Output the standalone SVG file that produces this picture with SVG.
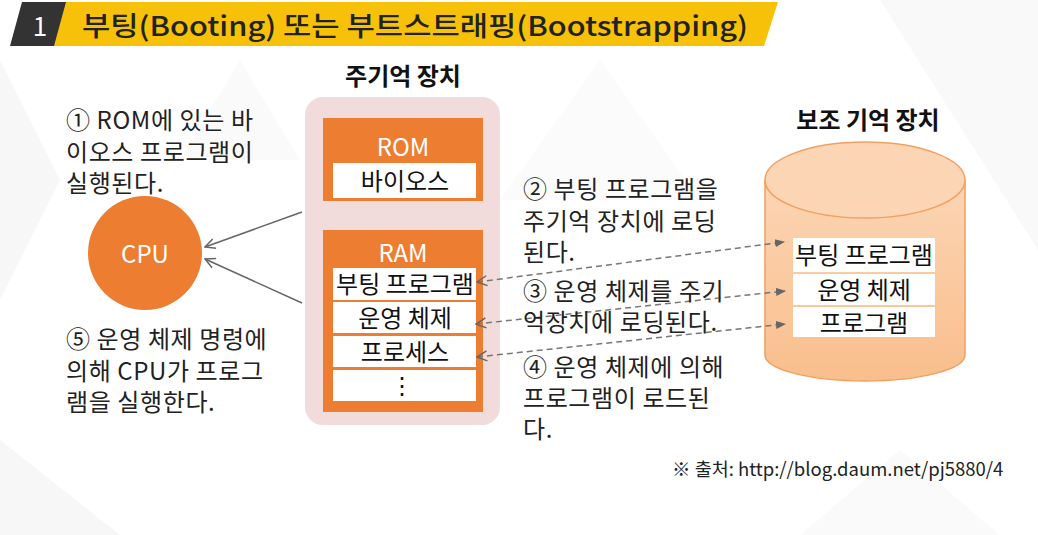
<svg xmlns="http://www.w3.org/2000/svg" width="1038" height="535" viewBox="0 0 1038 535">
<defs>
<style>
.t{font-family:"Noto Sans CJK KR","Noto Sans",sans-serif;font-size:24px;letter-spacing:0.6px;fill:#222}
.b{font-family:"Noto Sans CJK KR","Noto Sans",sans-serif;font-size:24px;font-weight:700;fill:#111}
.w{font-family:"Noto Sans CJK KR","Noto Sans",sans-serif;font-size:24px;fill:#fff;text-anchor:middle}
.c{font-family:"Noto Sans CJK KR","Noto Sans",sans-serif;font-size:24px;fill:#111;text-anchor:middle}
.bx{fill:#fff}
.or{fill:#ED7D31}
.solid{stroke:#666;stroke-width:1.5;fill:none}
.dash{stroke:#777;stroke-width:1.5;fill:none;stroke-dasharray:6 4}
</style>
<marker id="open" viewBox="0 0 12 12" refX="11" refY="6" markerWidth="12" markerHeight="12" markerUnits="userSpaceOnUse" orient="auto-start-reverse">
<path d="M1,1 L11,6 L1,11" fill="none" stroke="#666" stroke-width="1.5"/>
</marker>
<marker id="fill" viewBox="0 0 10 10" refX="9" refY="5" markerWidth="10" markerHeight="10" markerUnits="userSpaceOnUse" orient="auto">
<path d="M0,1 L10,5 L0,9 Z" fill="#666"/>
</marker>
<linearGradient id="cyl" x1="0" y1="0" x2="0" y2="1">
<stop offset="0" stop-color="#FCD5B4"/>
<stop offset="1" stop-color="#F9BE8C"/>
</linearGradient>
</defs>
<rect width="1038" height="535" fill="#fff"/>
<g id="background" fill="#f7f7f7">
<polygon points="0,60 60,180 0,300"/>
<polygon points="240,60 300,160 180,160" opacity="0.6"/>
<polygon points="880,0 1038,0 1038,250" opacity="0.7"/>
<polygon points="600,60 700,200 500,200" opacity="0.5"/>
<polygon points="0,440 120,535 0,535"/>
<polygon points="900,450 1000,535 800,535" opacity="0.6"/>
</g>
<g id="title">
<polygon points="58,2 778,2 764,46 44,46" fill="#F6C108"/>
<polygon points="22,2 66,2 54,46 10,46" fill="#333"/>
<text x="40" y="36" font-family="Noto Sans CJK KR,sans-serif" font-size="26" fill="#fff" text-anchor="middle">1</text>
<text x="82" y="36" font-family="Noto Sans CJK KR,sans-serif" font-size="27" font-weight="500" fill="#222" textLength="666" lengthAdjust="spacingAndGlyphs">부팅(Booting) 또는 부트스트래핑(Bootstrapping)</text>
</g>
<g id="main-memory">
<text class="b" x="403" y="85" text-anchor="middle">주기억 장치</text>
<rect x="305" y="97" width="195" height="328" rx="18" fill="#F2DCDB"/>
</g>
<g id="rom">
<rect class="or" x="323" y="118" width="160" height="83"/>
<text class="w" x="403" y="156">ROM</text>
<rect class="bx" x="333" y="163" width="143" height="35"/>
<text class="c" x="405" y="190">바이오스</text>
</g>
<g id="ram">
<rect class="or" x="323" y="230" width="160" height="182"/>
<text class="w" x="403" y="262">RAM</text>
<rect class="bx" x="333" y="268" width="143" height="32"/>
<text class="c" x="405" y="293">부팅 프로그램</text>
<rect class="bx" x="333" y="302" width="143" height="31"/>
<text class="c" x="405" y="327">운영 체제</text>
<rect class="bx" x="333" y="336" width="143" height="31"/>
<text class="c" x="405" y="361">프로세스</text>
<rect class="bx" x="333" y="370" width="143" height="31"/>
<text class="c" x="402" y="394">⋮</text>
</g>
<g id="cpu">
<circle class="or" cx="145" cy="253" r="57"/>
<text class="w" x="145" y="263">CPU</text>
</g>
<g id="storage">
<text class="b" x="868" y="129" text-anchor="middle">보조 기억 장치</text>
<path d="M765,180 L765,355 A100,26 0 0 0 965,355 L965,180" fill="url(#cyl)" stroke="#F0A060" stroke-width="1.5"/>
<ellipse cx="865" cy="180" rx="100" ry="38" fill="#FCD5B4" stroke="#F0A060" stroke-width="1.5"/>
<rect class="bx" x="793" y="238" width="142" height="34"/>
<text class="c" x="864" y="264">부팅 프로그램</text>
<rect class="bx" x="793" y="274" width="142" height="31"/>
<text class="c" x="864" y="299">운영 체제</text>
<rect class="bx" x="793" y="307" width="142" height="30"/>
<text class="c" x="864" y="332">프로그램</text>
</g>
<g id="connectors">
<line class="solid" x1="302" y1="212" x2="205" y2="247" marker-end="url(#open)"/>
<line class="solid" x1="302" y1="303" x2="205" y2="259" marker-end="url(#open)"/>
<line class="dash" x1="477" y1="282" x2="784" y2="242" marker-start="url(#open)" marker-end="url(#fill)"/>
<line class="dash" x1="476" y1="324" x2="785" y2="291" marker-start="url(#open)" marker-end="url(#fill)"/>
<line class="dash" x1="477" y1="357" x2="785" y2="324" marker-start="url(#open)" marker-end="url(#fill)"/>
</g>
<g id="labels">
<text class="t" x="66" y="129">① ROM에 있는 바</text>
<text class="t" x="66" y="161">이오스 프로그램이</text>
<text class="t" x="66" y="192">실행된다.</text>
<text class="t" x="66" y="348">⑤ 운영 체제 명령에</text>
<text class="t" x="66" y="380">의해 CPU가 프로그</text>
<text class="t" x="66" y="411">램을 실행한다.</text>
<text class="t" x="523" y="198">② 부팅 프로그램을</text>
<text class="t" x="523" y="230">주기억 장치에 로딩</text>
<text class="t" x="523" y="261">된다.</text>
<text class="t" x="523" y="300">③ 운영 체제를 주기</text>
<text class="t" x="523" y="331">억장치에 로딩된다.</text>
<text class="t" x="523" y="376">④ 운영 체제에 의해</text>
<text class="t" x="523" y="407">프로그램이 로드된</text>
<text class="t" x="523" y="438">다.</text>
<text x="672" y="476" font-family="Noto Sans CJK KR,sans-serif" font-size="18.5" fill="#222">※ 출처: http://blog.daum.net/pj5880/4</text>
</g>
</svg>
